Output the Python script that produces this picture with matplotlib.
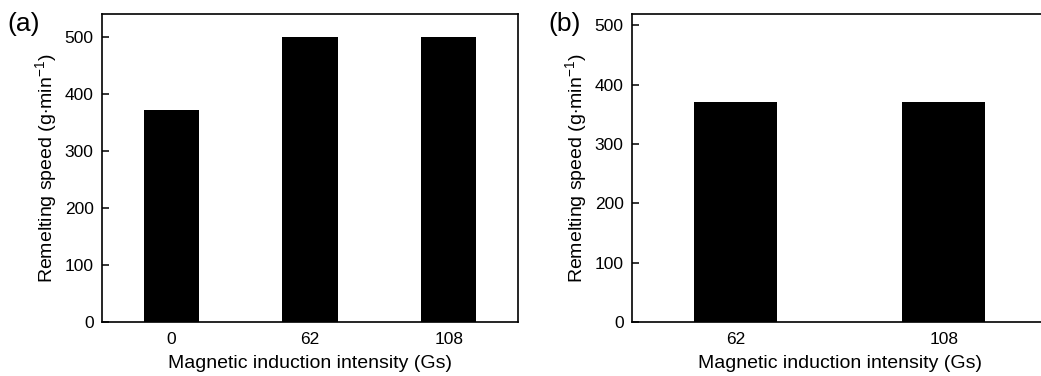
import matplotlib.pyplot as plt

plt.rcParams["font.family"] = ["Liberation Sans", "DejaVu Sans"]
plt.rcParams["mathtext.fontset"] = "custom"
plt.rcParams["mathtext.rm"] = "Liberation Sans"
plt.rcParams["mathtext.it"] = "Liberation Sans"

# panel (a)
fields_a = ["0", "62", "108"]
speed_a = [372, 500, 500]
# panel (b)
fields_b = ["62", "108"]
speed_b = [370, 370]

yticks = [0, 100, 200, 300, 400, 500]
xlabel = "Magnetic induction intensity (Gs)"
ylabel = "Remelting speed (g$\\cdot$min$^{-1}$)"

fig = plt.figure(figsize=(10.41, 3.76), dpi=100)
ax_a = fig.add_axes([0.098, 0.1436, 0.3996, 0.819])
ax_b = fig.add_axes([0.607, 0.1436, 0.3996, 0.819])

for ax, cats, vals, top in [(ax_a, fields_a, speed_a, 540),
                            (ax_b, fields_b, speed_b, 519)]:
    pos = list(range(len(cats)))
    ax.bar(pos, vals, width=0.4, color="black")
    ax.set_xlim(-0.5, len(cats) - 0.5)
    ax.set_ylim(0, top)
    ax.set_xticks(pos)
    ax.set_xticklabels(cats)
    ax.set_yticks(yticks)
    ax.tick_params(axis="x", length=0, pad=7, labelsize=12.5)
    ax.tick_params(axis="y", direction="in", length=5, width=1.1, labelsize=12.5, pad=6)
    for s in ax.spines.values():
        s.set_linewidth(1.2)
    ax.set_xlabel(xlabel, fontsize=14, labelpad=6)
    ax.set_ylabel(ylabel, fontsize=14, labelpad=4)

fig.text(0.007, 0.935, "(a)", fontsize=19, va="center")
fig.text(0.527, 0.935, "(b)", fontsize=19, va="center")

fig.savefig("out.png", dpi=100)
